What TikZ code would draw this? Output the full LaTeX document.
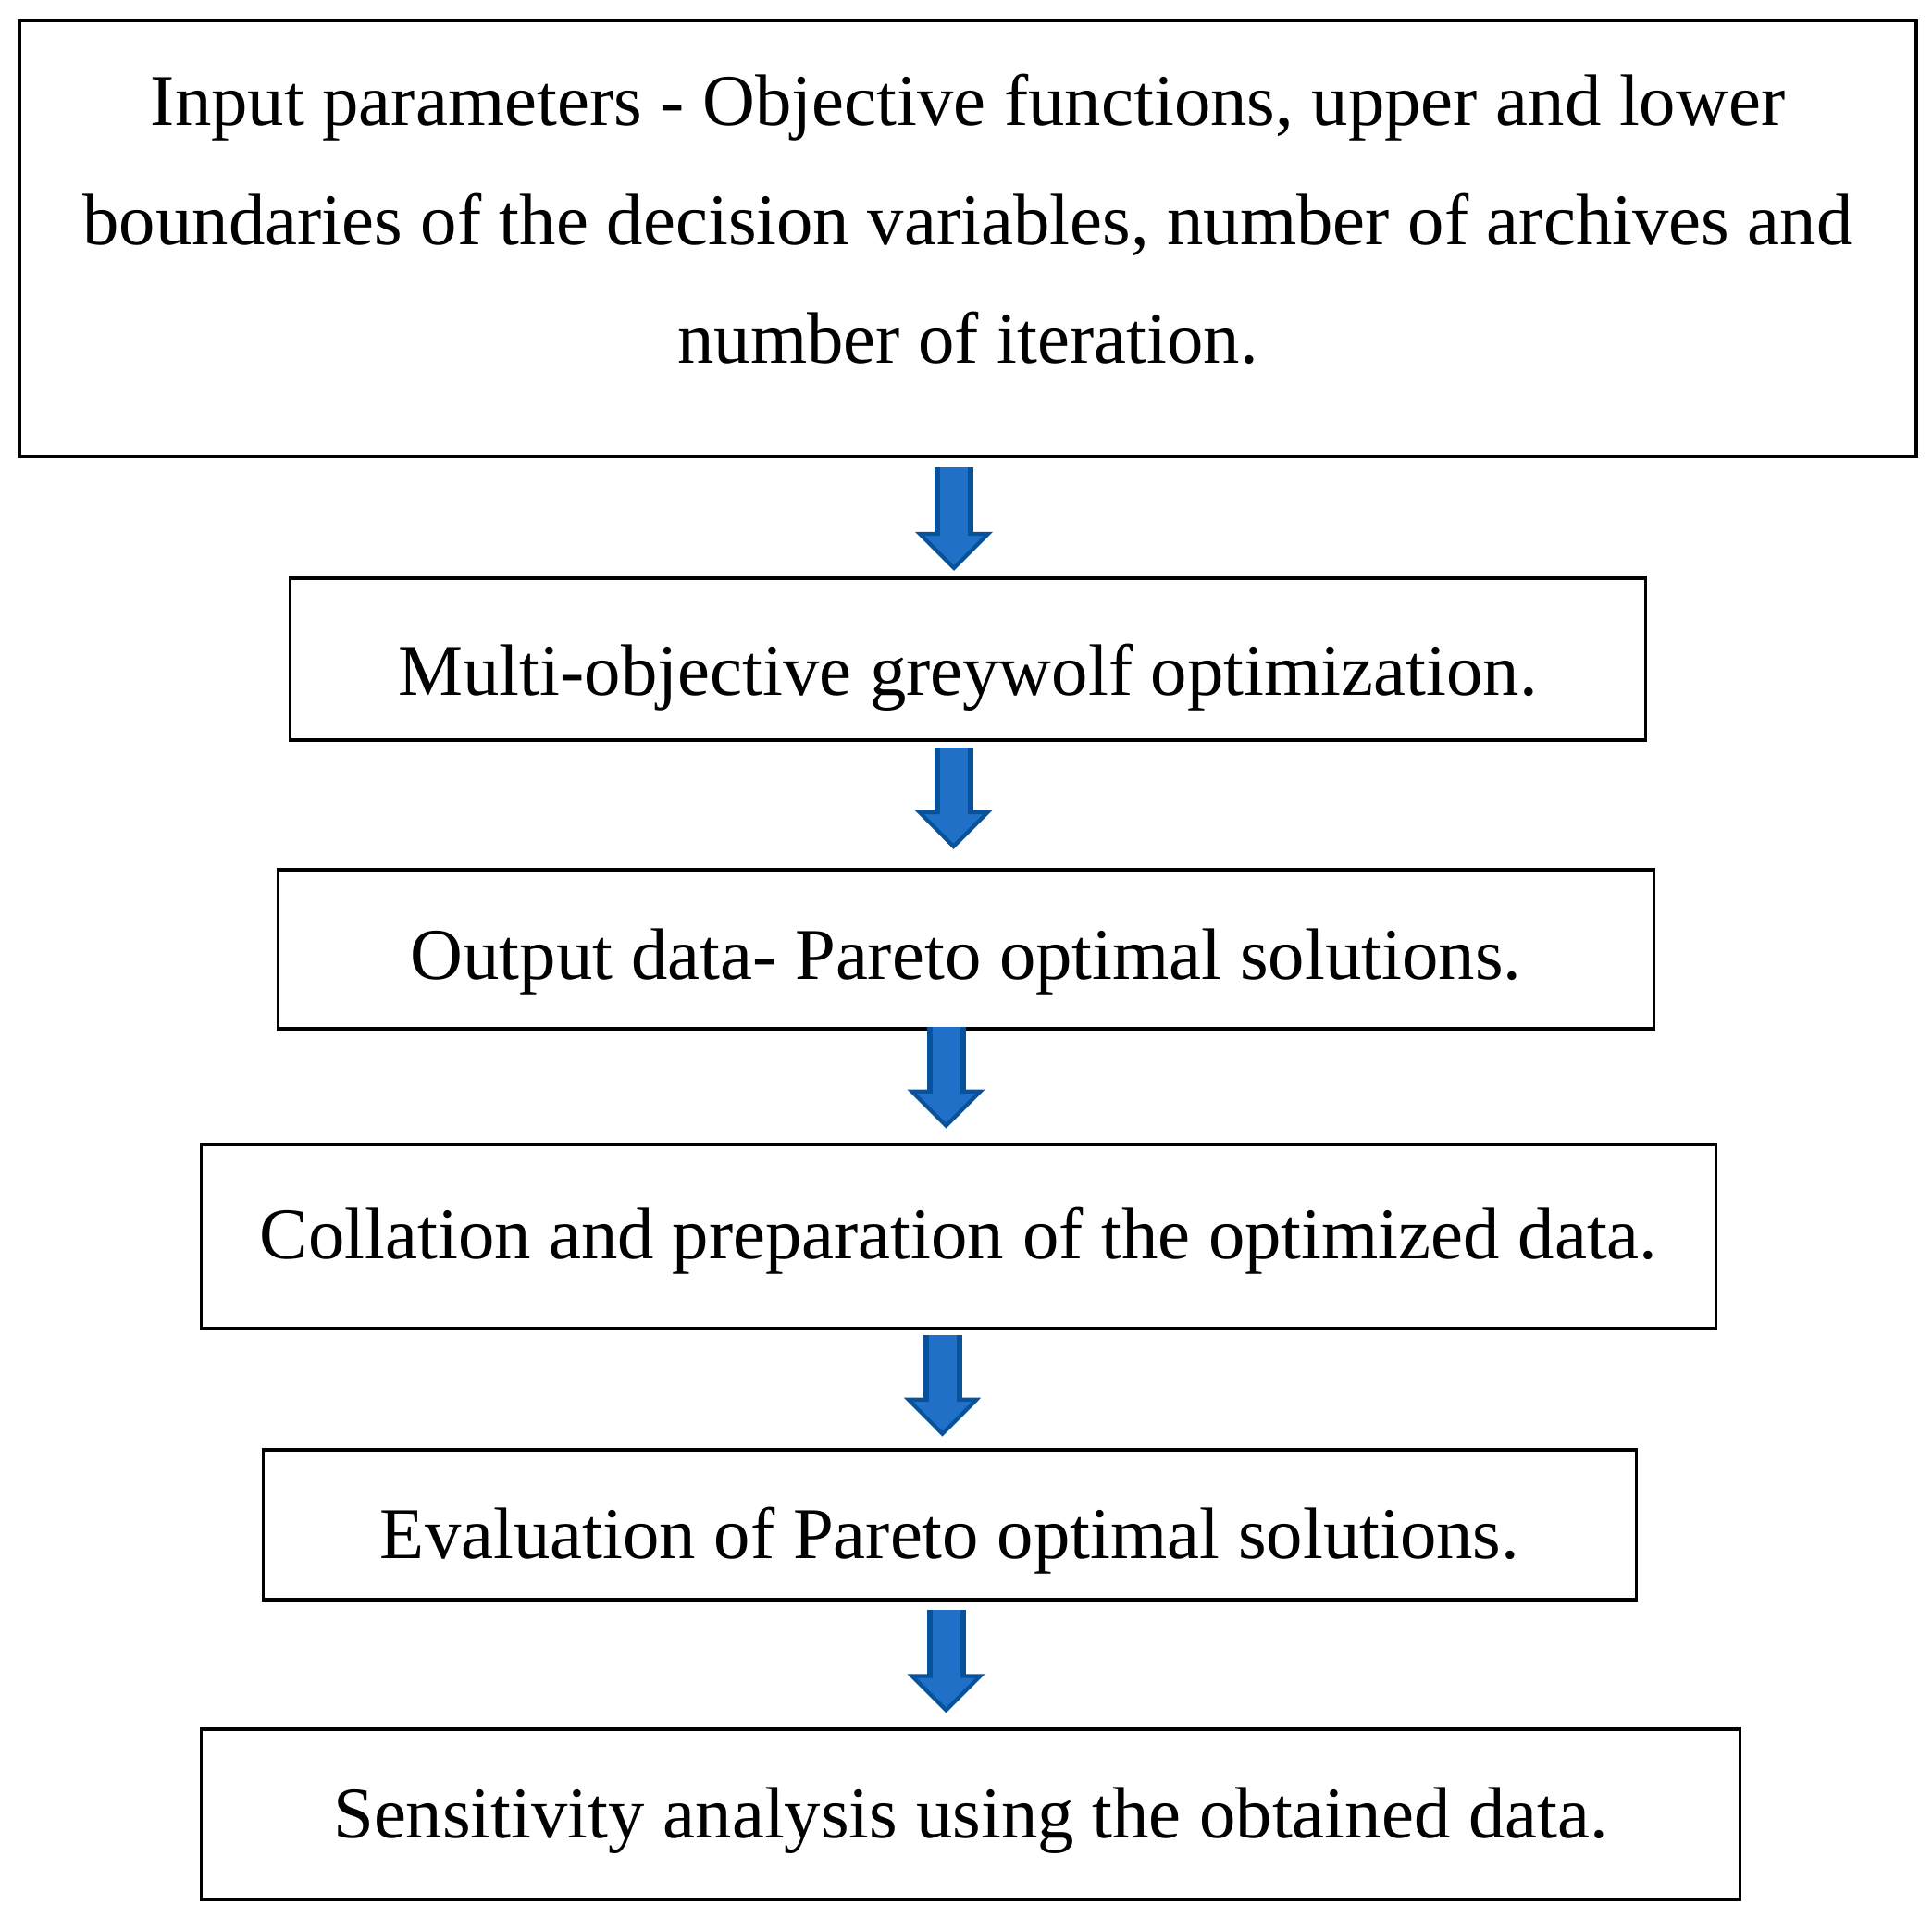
\documentclass[tikz,border=0pt]{standalone}
\usepackage{fontspec}
\setmainfont{Liberation Serif}
\usetikzlibrary{arrows.meta, positioning}
\definecolor{cArrow}{RGB}{31,112,198}
\definecolor{cArrowEdge}{RGB}{8,82,156}
\tikzset{
	stepbox/.style ={rectangle, draw=black, line width=1.1pt, align=center},
	stepline/.style={stepbox, text height=20pt, text depth=1.8pt},
	% fat blue arrows between the steps
	blkarrow/.style={draw=cArrowEdge, line width=4.2mm, -{Triangle[width=8.3mm, length=4.2mm, line width=1.2pt, fill=cArrow]}, postaction={draw=cArrow, line width=3mm, arrows=-, shorten >=3mm}},
}

\begin{document}
\begin{tikzpicture}[font=\fontsize{22.4pt}{36.6pt}\selectfont]
	\useasboundingbox (0,0) rectangle (20.88,-20.85);
	\node[stepbox, minimum width=20.5cm, minimum height=4.71cm, text depth=12.3pt] (inp) at (10.46,-2.58) {Input parameters - Objective functions, upper and lower\\ boundaries of the decision variables, number of archives and\\ number of iteration.};
	\node[stepline, below=1.28cm of inp, minimum width=14.65cm, minimum height=1.75cm, text height=23.8pt] (mogwo) {Multi-objective greywolf optimization.};
	\node[stepline, below=1.36cm of mogwo, xshift=-0.2mm, minimum width=14.87cm, minimum height=1.72cm] (outp) {Output data- Pareto optimal solutions.};
	\node[stepline, below=1.21cm of outp, xshift=-0.8mm, minimum width=16.37cm, minimum height=1.985cm, text depth=6.3pt] (coll) {Collation and preparation of the optimized data.};
	\node[stepline, below=1.275cm of coll, xshift=-0.95mm, minimum width=14.84cm, minimum height=1.62cm, text height=22.3pt] (eval) {Evaluation of Pareto optimal solutions.};
	\node[stepline, below=1.36cm of eval, xshift=2.25mm, minimum width=16.63cm, minimum height=1.845cm, text depth=5.6pt] (sens) {Sensitivity analysis using the obtained data.};
	\draw[blkarrow] ([xshift=-1.5mm, yshift=-1mm]inp.south) -- ([xshift=-1.5mm, yshift=0.65mm]inp.south |- mogwo.north);
	\draw[blkarrow] ([xshift=-1.55mm, yshift=-0.55mm]mogwo.south) -- ([xshift=-1.55mm, yshift=2.05mm]mogwo.south |- outp.north);
	\draw[blkarrow] ([xshift=-2.15mm, yshift=0.45mm]outp.south) -- ([xshift=-2.15mm, yshift=1.55mm]outp.south |- coll.north);
	\draw[blkarrow] ([xshift=-1.75mm, yshift=-0.5mm]coll.south) -- ([xshift=-1.75mm, yshift=1.25mm]coll.south |- eval.north);
	\draw[blkarrow] ([xshift=-0.4mm, yshift=-0.95mm]eval.south) -- ([xshift=-0.4mm, yshift=1.55mm]eval.south |- sens.north);
\end{tikzpicture}
\end{document}
